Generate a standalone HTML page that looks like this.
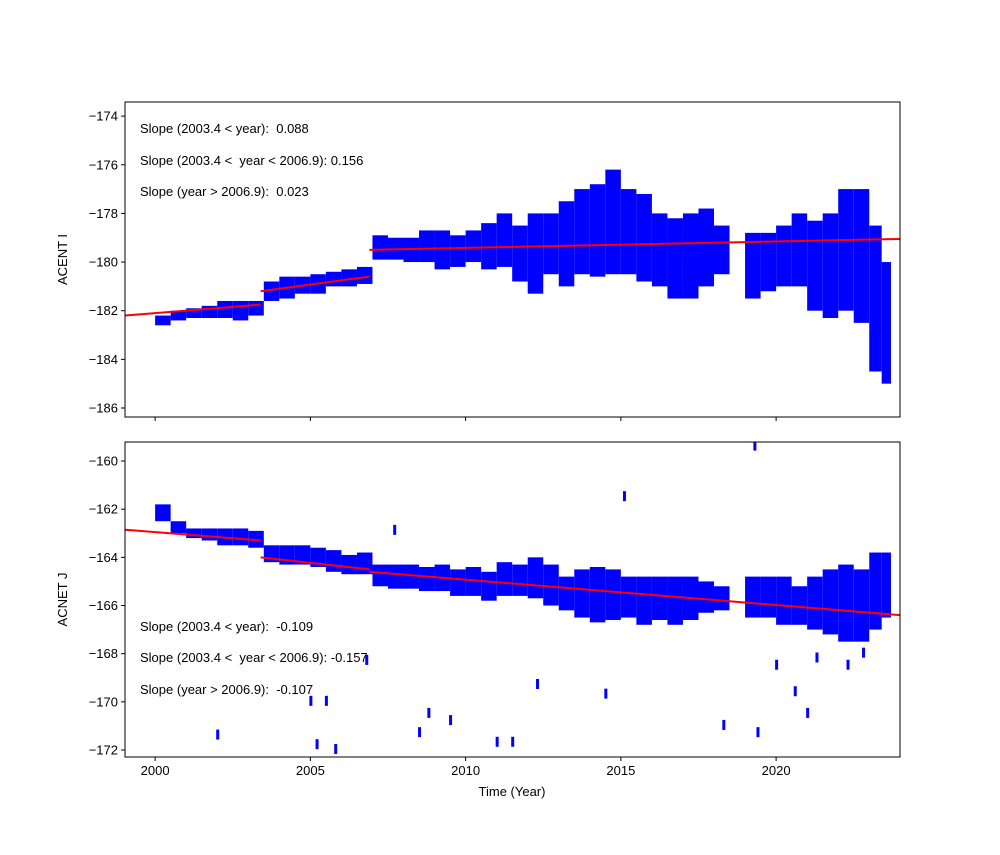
<!DOCTYPE html>
<html><head><meta charset="utf-8"><style>
body{margin:0;background:#fff}
svg text{font-family:"Liberation Sans","DejaVu Sans",sans-serif;font-size:13px;fill:#000;white-space:pre}
</style></head><body>
<svg id="chart" width="1000" height="850" xmlns="http://www.w3.org/2000/svg"></svg>
<script>
// ---- data ----
const topYears=[2000,2000.5,2001,2001.5,2002,2002.5,2003,2003.5,2004,2004.5,2005,2005.5,2006,2006.5,2007,2007.5,2008,2008.5,2009,2009.5,2010,2010.5,2011,2011.5,2012,2012.5,2013,2013.5,2014,2014.5,2015,2015.5,2016,2016.5,2017,2017.5,2018,2019,2019.5,2020,2020.5,2021,2021.5,2022,2022.5,2023,2023.4];
const topLo=[-182.6,-182.4,-182.3,-182.3,-182.3,-182.4,-182.2,-181.6,-181.5,-181.3,-181.3,-181.0,-181.0,-180.9,-179.9,-179.9,-180.0,-180.0,-180.3,-180.2,-180.0,-180.3,-180.2,-180.8,-181.3,-180.5,-181.0,-180.5,-180.6,-180.5,-180.5,-180.8,-181.0,-181.5,-181.5,-181.0,-180.5,-181.5,-181.2,-181.0,-181.0,-182.0,-182.3,-182.0,-182.5,-184.5,-185.0];
const topHi=[-182.2,-182.0,-181.9,-181.8,-181.6,-181.6,-181.6,-180.8,-180.6,-180.6,-180.5,-180.4,-180.3,-180.2,-178.9,-179.0,-179.0,-178.7,-178.7,-178.9,-178.7,-178.4,-178.0,-178.5,-178.0,-178.0,-177.5,-177.0,-176.8,-176.2,-177.0,-177.2,-178.0,-178.2,-178.0,-177.8,-178.5,-178.8,-178.8,-178.5,-178.0,-178.3,-178.0,-177.0,-177.0,-178.5,-180.0];
const botYears=[2000,2000.5,2001,2001.5,2002,2002.5,2003,2003.5,2004,2004.5,2005,2005.5,2006,2006.5,2007,2007.5,2008,2008.5,2009,2009.5,2010,2010.5,2011,2011.5,2012,2012.5,2013,2013.5,2014,2014.5,2015,2015.5,2016,2016.5,2017,2017.5,2018,2019,2019.5,2020,2020.5,2021,2021.5,2022,2022.5,2023,2023.4];
const botLo=[-162.5,-163.0,-163.2,-163.3,-163.5,-163.5,-163.6,-164.2,-164.3,-164.3,-164.4,-164.6,-164.7,-164.7,-165.2,-165.3,-165.3,-165.4,-165.4,-165.6,-165.6,-165.8,-165.6,-165.6,-165.7,-166.0,-166.2,-166.5,-166.7,-166.6,-166.5,-166.8,-166.6,-166.8,-166.6,-166.3,-166.2,-166.5,-166.5,-166.8,-166.8,-167.0,-167.2,-167.5,-167.5,-167.0,-166.5];
const botHi=[-161.8,-162.5,-162.8,-162.8,-162.8,-162.8,-162.9,-163.5,-163.5,-163.5,-163.6,-163.7,-163.9,-163.8,-164.3,-164.3,-164.3,-164.4,-164.3,-164.5,-164.4,-164.6,-164.2,-164.3,-164.0,-164.3,-164.8,-164.5,-164.4,-164.5,-164.8,-164.8,-164.8,-164.8,-164.8,-165.0,-165.2,-164.8,-164.8,-164.8,-165.2,-164.8,-164.5,-164.3,-164.5,-163.8,-163.8];
const outYears=[2005,2005.5,2005.2,2005.8,2002,2008.5,2008.8,2009.5,2011,2011.5,2012.3,2014.5,2018.3,2019.4,2020.6,2021,2020,2021.3,2022.3,2022.8,2006.8,2007.7,2015.1,2019.3];
const outVals=[-170,-170,-171.8,-172,-171.4,-171.3,-170.5,-170.8,-171.7,-171.7,-169.3,-169.7,-171,-171.3,-169.6,-170.5,-168.5,-168.2,-168.5,-168,-168.3,-162.9,-161.5,-159.4];
const topFitX=[[1999,2003.4],[2003.4,2006.9],[2006.9,2024]];
const topFitY=[[-182.2,-181.75],[-181.2,-180.6],[-179.5,-179.05]];
const botFitX=[[1999,2003.4],[2003.4,2006.9],[2006.9,2024]];
const botFitY=[[-162.85,-163.3],[-164.0,-164.5],[-164.6,-166.4]];
const xTicks=[2000,2005,2010,2015,2020];
const topTicks=[-186,-184,-182,-180,-178,-176,-174];
const botTicks=[-172,-170,-168,-166,-164,-162,-160];
const topText=["Slope (2003.4 < year):  0.088","Slope (2003.4 <  year < 2006.9): 0.156","Slope (year > 2006.9):  0.023"];
const botText=["Slope (2003.4 < year):  -0.109","Slope (2003.4 <  year < 2006.9): -0.157","Slope (year > 2006.9):  -0.107"];

const svg=document.getElementById('chart');
const NS='http://www.w3.org/2000/svg';
function mk(t,a,p){const e=document.createElementNS(NS,t);for(const k in a)e.setAttribute(k,a[k]);(p||svg).appendChild(e);return e;}
const L=125,R=900;
function xs(v){return L+(v-1999.03)/(2023.99-1999.03)*(R-L);}
const defs=mk('defs',{});
function panel(T,B,ymin,ymax,lo,hi,years,ticks,fx,fy,texts,ty,ylabel,name,showX,cid){
  const y=v=>B-(v-ymin)/(ymax-ymin)*(B-T);
  const cp=mk('clipPath',{id:cid},defs);
  mk('rect',{x:L,y:T,width:R-L,height:B-T},cp);
  const g=mk('g',{});
  
  
  const d=mk('g',{'clip-path':`url(#${cid})`},g);
  for(let i=0;i<years.length;i++){
    const w=(i<years.length-1?Math.min(years[i+1]-years[i],0.5):0.3);
    const r=mk('rect',{x:xs(years[i]),y:y(hi[i]),width:Math.max(2,xs(years[i]+w)-xs(years[i])),height:Math.max(2,y(lo[i])-y(hi[i])),fill:'#0000ff'},d);
    
    
  }
  for(let i=0;i<fx.length;i++){
    const l=mk('line',{x1:xs(fx[i][0]),y1:y(fy[i][0]),x2:xs(fx[i][1]),y2:y(fy[i][1]),stroke:'#ff0000','stroke-width':2},d);
    
    
  }
  const f=mk('rect',{x:L,y:T,width:R-L,height:B-T,fill:'none',stroke:'#000','stroke-width':1},g);
  
  
  ticks.forEach(t=>{
    mk('line',{x1:L-4,x2:L,y1:y(t),y2:y(t),stroke:'#000'},g);
    const tx=mk('text',{x:L-7,y:y(t)+4.5,'text-anchor':'end'},g);tx.textContent='\u2212'+Math.abs(t);
    
    
  });
  xTicks.forEach(t=>{
    mk('line',{x1:xs(t),x2:xs(t),y1:B,y2:B+4,stroke:'#000'},g);
    if(showX){const tx=mk('text',{x:xs(t),y:B+18,'text-anchor':'middle'},g);tx.textContent=t;
      
      }
  });
  texts.forEach((s,i)=>{const tx=mk('text',{x:140,y:ty[i]},g);tx.textContent=s;
    
    });
  const yl=mk('text',{x:0,y:0,transform:`translate(67,${(T+B)/2}) rotate(-90)`,'text-anchor':'middle'},g);yl.textContent=ylabel;
  
  
  return {g,y,d};
}
panel(102,417,-186.37,-173.42,topLo,topHi,topYears,topTicks,topFitX,topFitY,topText,[133,165,196],'ACENT I','top-panel',false,'c1');
const p2=panel(442,757,-172.29,-159.21,botLo,botHi,botYears,botTicks,botFitX,botFitY,botText,[631,662,694],'ACNET J','bottom-panel',true,'c2');
outYears.forEach((yr,i)=>{
  const r=mk('rect',{x:xs(yr)-1,y:p2.y(outVals[i])-6,width:3,height:10,fill:'#0000ff'},p2.d);
  
  
});
const xl=mk('text',{x:512,y:796,'text-anchor':'middle'});xl.textContent='Time (Year)';


</script>
</body></html>
